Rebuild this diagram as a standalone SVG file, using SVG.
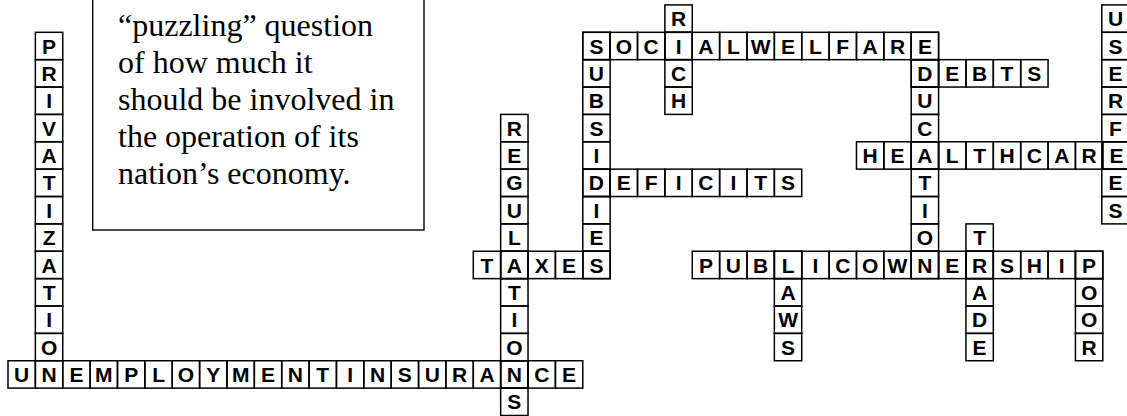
<svg xmlns="http://www.w3.org/2000/svg" width="1127" height="416" viewBox="0 0 1127 416">
<style>
.c{fill:none;stroke:#000;stroke-width:1.5}
.t{font-family:"Liberation Sans",Arial,sans-serif;font-weight:bold;font-size:21px;text-anchor:middle;fill:#000;transform:translateY(0.8px)}
.q{font-family:"Liberation Serif","Times New Roman",serif;font-size:32px;fill:#000}
.box{fill:#fff;stroke:#000;stroke-width:1.4}
</style>
<rect width="1127" height="416" fill="#fff"/>
<g id="note">
<rect class="box" x="92.7" y="-5" width="331.3" height="235"/>
<text class="q" x="118" y="36">“puzzling” question</text>
<text class="q" x="118" y="73">of how much it</text>
<text class="q" x="118" y="110">should be involved in</text>
<text class="q" x="118" y="147">the operation of its</text>
<text class="q" x="118" y="184">nation’s economy.</text>
</g>
<g id="connectors"/>
<g id="privatization" transform="translate(35.37,32.3)">
<rect class="c" x="0" y="0" width="27.37" height="27.37"/><rect class="c" x="0" y="27.37" width="27.37" height="27.37"/><rect class="c" x="0" y="54.74" width="27.37" height="27.37"/><rect class="c" x="0" y="82.11" width="27.37" height="27.37"/><rect class="c" x="0" y="109.48" width="27.37" height="27.37"/><rect class="c" x="0" y="136.85" width="27.37" height="27.37"/><rect class="c" x="0" y="164.22" width="27.37" height="27.37"/><rect class="c" x="0" y="191.59" width="27.37" height="27.37"/><rect class="c" x="0" y="218.96" width="27.37" height="27.37"/><rect class="c" x="0" y="246.33" width="27.37" height="27.37"/><rect class="c" x="0" y="273.7" width="27.37" height="27.37"/><rect class="c" x="0" y="301.07" width="27.37" height="27.37"/>
<text class="t" x="13.69" y="20.5">P</text><text class="t" x="13.69" y="47.87">R</text><text class="t" x="13.69" y="75.24">I</text><text class="t" x="13.69" y="102.61">V</text><text class="t" x="13.69" y="129.98">A</text><text class="t" x="13.69" y="157.35">T</text><text class="t" x="13.69" y="184.72">I</text><text class="t" x="13.69" y="212.09">Z</text><text class="t" x="13.69" y="239.46">A</text><text class="t" x="13.69" y="266.83">T</text><text class="t" x="13.69" y="294.2">I</text><text class="t" x="13.69" y="321.57">O</text>
</g>
<g id="unemploymentinsurance" transform="translate(8,360.74)">
<rect class="c" x="0" y="0" width="27.37" height="27.37"/><rect class="c" x="27.37" y="0" width="27.37" height="27.37"/><rect class="c" x="54.74" y="0" width="27.37" height="27.37"/><rect class="c" x="82.11" y="0" width="27.37" height="27.37"/><rect class="c" x="109.48" y="0" width="27.37" height="27.37"/><rect class="c" x="136.85" y="0" width="27.37" height="27.37"/><rect class="c" x="164.22" y="0" width="27.37" height="27.37"/><rect class="c" x="191.59" y="0" width="27.37" height="27.37"/><rect class="c" x="218.96" y="0" width="27.37" height="27.37"/><rect class="c" x="246.33" y="0" width="27.37" height="27.37"/><rect class="c" x="273.7" y="0" width="27.37" height="27.37"/><rect class="c" x="301.07" y="0" width="27.37" height="27.37"/><rect class="c" x="328.44" y="0" width="27.37" height="27.37"/><rect class="c" x="355.81" y="0" width="27.37" height="27.37"/><rect class="c" x="383.18" y="0" width="27.37" height="27.37"/><rect class="c" x="410.55" y="0" width="27.37" height="27.37"/><rect class="c" x="437.92" y="0" width="27.37" height="27.37"/><rect class="c" x="465.29" y="0" width="27.37" height="27.37"/><rect class="c" x="492.66" y="0" width="27.37" height="27.37"/><rect class="c" x="520.03" y="0" width="27.37" height="27.37"/><rect class="c" x="547.4" y="0" width="27.37" height="27.37"/>
<text class="t" x="13.69" y="20.5">U</text><text class="t" x="41.06" y="20.5">N</text><text class="t" x="68.43" y="20.5">E</text><text class="t" x="95.8" y="20.5">M</text><text class="t" x="123.17" y="20.5">P</text><text class="t" x="150.54" y="20.5">L</text><text class="t" x="177.91" y="20.5">O</text><text class="t" x="205.28" y="20.5">Y</text><text class="t" x="232.65" y="20.5">M</text><text class="t" x="260.02" y="20.5">E</text><text class="t" x="287.39" y="20.5">N</text><text class="t" x="314.76" y="20.5">T</text><text class="t" x="342.13" y="20.5">I</text><text class="t" x="369.5" y="20.5">N</text><text class="t" x="396.87" y="20.5">S</text><text class="t" x="424.24" y="20.5">U</text><text class="t" x="451.61" y="20.5">R</text><text class="t" x="478.98" y="20.5">A</text><text class="t" x="506.35" y="20.5">N</text><text class="t" x="533.72" y="20.5">C</text><text class="t" x="561.09" y="20.5">E</text>
</g>
<g id="regulations" transform="translate(500.66,114.41)">
<rect class="c" x="0" y="0" width="27.37" height="27.37"/><rect class="c" x="0" y="27.37" width="27.37" height="27.37"/><rect class="c" x="0" y="54.74" width="27.37" height="27.37"/><rect class="c" x="0" y="82.11" width="27.37" height="27.37"/><rect class="c" x="0" y="109.48" width="27.37" height="27.37"/><rect class="c" x="0" y="136.85" width="27.37" height="27.37"/><rect class="c" x="0" y="164.22" width="27.37" height="27.37"/><rect class="c" x="0" y="191.59" width="27.37" height="27.37"/><rect class="c" x="0" y="218.96" width="27.37" height="27.37"/><rect class="c" x="0" y="246.33" width="27.37" height="27.37"/><rect class="c" x="0" y="273.7" width="27.37" height="27.37"/>
<text class="t" x="13.69" y="20.5">R</text><text class="t" x="13.69" y="47.87">E</text><text class="t" x="13.69" y="75.24">G</text><text class="t" x="13.69" y="102.61">U</text><text class="t" x="13.69" y="129.98">L</text><text class="t" x="13.69" y="184.72">T</text><text class="t" x="13.69" y="212.09">I</text><text class="t" x="13.69" y="239.46">O</text><text class="t" x="13.69" y="294.2">S</text>
</g>
<g id="taxes" transform="translate(473.29,251.26)">
<rect class="c" x="0" y="0" width="27.37" height="27.37"/><rect class="c" x="27.37" y="0" width="27.37" height="27.37"/><rect class="c" x="54.74" y="0" width="27.37" height="27.37"/><rect class="c" x="82.11" y="0" width="27.37" height="27.37"/><rect class="c" x="109.48" y="0" width="27.37" height="27.37"/>
<text class="t" x="13.69" y="20.5">T</text><text class="t" x="41.06" y="20.5">A</text><text class="t" x="68.43" y="20.5">X</text><text class="t" x="95.8" y="20.5">E</text><text class="t" x="123.17" y="20.5">S</text>
</g>
<g id="subsidies" transform="translate(582.77,32.3)">
<rect class="c" x="0" y="0" width="27.37" height="27.37"/><rect class="c" x="0" y="27.37" width="27.37" height="27.37"/><rect class="c" x="0" y="54.74" width="27.37" height="27.37"/><rect class="c" x="0" y="82.11" width="27.37" height="27.37"/><rect class="c" x="0" y="109.48" width="27.37" height="27.37"/><rect class="c" x="0" y="136.85" width="27.37" height="27.37"/><rect class="c" x="0" y="164.22" width="27.37" height="27.37"/><rect class="c" x="0" y="191.59" width="27.37" height="27.37"/><rect class="c" x="0" y="218.96" width="27.37" height="27.37"/>
<text class="t" x="13.69" y="47.87">U</text><text class="t" x="13.69" y="75.24">B</text><text class="t" x="13.69" y="102.61">S</text><text class="t" x="13.69" y="129.98">I</text><text class="t" x="13.69" y="184.72">I</text><text class="t" x="13.69" y="212.09">E</text>
</g>
<g id="socialwelfare" transform="translate(582.77,32.3)">
<rect class="c" x="0" y="0" width="27.37" height="27.37"/><rect class="c" x="27.37" y="0" width="27.37" height="27.37"/><rect class="c" x="54.74" y="0" width="27.37" height="27.37"/><rect class="c" x="82.11" y="0" width="27.37" height="27.37"/><rect class="c" x="109.48" y="0" width="27.37" height="27.37"/><rect class="c" x="136.85" y="0" width="27.37" height="27.37"/><rect class="c" x="164.22" y="0" width="27.37" height="27.37"/><rect class="c" x="191.59" y="0" width="27.37" height="27.37"/><rect class="c" x="218.96" y="0" width="27.37" height="27.37"/><rect class="c" x="246.33" y="0" width="27.37" height="27.37"/><rect class="c" x="273.7" y="0" width="27.37" height="27.37"/><rect class="c" x="301.07" y="0" width="27.37" height="27.37"/><rect class="c" x="328.44" y="0" width="27.37" height="27.37"/>
<text class="t" x="13.69" y="20.5">S</text><text class="t" x="41.06" y="20.5">O</text><text class="t" x="68.43" y="20.5">C</text><text class="t" x="95.8" y="20.5">I</text><text class="t" x="123.17" y="20.5">A</text><text class="t" x="150.54" y="20.5">L</text><text class="t" x="177.91" y="20.5">W</text><text class="t" x="205.28" y="20.5">E</text><text class="t" x="232.65" y="20.5">L</text><text class="t" x="260.02" y="20.5">F</text><text class="t" x="287.39" y="20.5">A</text><text class="t" x="314.76" y="20.5">R</text><text class="t" x="342.13" y="20.5">E</text>
</g>
<g id="rich" transform="translate(664.88,4.93)">
<rect class="c" x="0" y="0" width="27.37" height="27.37"/><rect class="c" x="0" y="27.37" width="27.37" height="27.37"/><rect class="c" x="0" y="54.74" width="27.37" height="27.37"/><rect class="c" x="0" y="82.11" width="27.37" height="27.37"/>
<text class="t" x="13.69" y="20.5">R</text><text class="t" x="13.69" y="75.24">C</text><text class="t" x="13.69" y="102.61">H</text>
</g>
<g id="deficits" transform="translate(582.77,169.15)">
<rect class="c" x="0" y="0" width="27.37" height="27.37"/><rect class="c" x="27.37" y="0" width="27.37" height="27.37"/><rect class="c" x="54.74" y="0" width="27.37" height="27.37"/><rect class="c" x="82.11" y="0" width="27.37" height="27.37"/><rect class="c" x="109.48" y="0" width="27.37" height="27.37"/><rect class="c" x="136.85" y="0" width="27.37" height="27.37"/><rect class="c" x="164.22" y="0" width="27.37" height="27.37"/><rect class="c" x="191.59" y="0" width="27.37" height="27.37"/>
<text class="t" x="13.69" y="20.5">D</text><text class="t" x="41.06" y="20.5">E</text><text class="t" x="68.43" y="20.5">F</text><text class="t" x="95.8" y="20.5">I</text><text class="t" x="123.17" y="20.5">C</text><text class="t" x="150.54" y="20.5">I</text><text class="t" x="177.91" y="20.5">T</text><text class="t" x="205.28" y="20.5">S</text>
</g>
<g id="education" transform="translate(911.21,32.3)">
<rect class="c" x="0" y="0" width="27.37" height="27.37"/><rect class="c" x="0" y="27.37" width="27.37" height="27.37"/><rect class="c" x="0" y="54.74" width="27.37" height="27.37"/><rect class="c" x="0" y="82.11" width="27.37" height="27.37"/><rect class="c" x="0" y="109.48" width="27.37" height="27.37"/><rect class="c" x="0" y="136.85" width="27.37" height="27.37"/><rect class="c" x="0" y="164.22" width="27.37" height="27.37"/><rect class="c" x="0" y="191.59" width="27.37" height="27.37"/><rect class="c" x="0" y="218.96" width="27.37" height="27.37"/>
<text class="t" x="13.69" y="75.24">U</text><text class="t" x="13.69" y="102.61">C</text><text class="t" x="13.69" y="157.35">T</text><text class="t" x="13.69" y="184.72">I</text><text class="t" x="13.69" y="212.09">O</text>
</g>
<g id="debts" transform="translate(911.21,59.67)">
<rect class="c" x="0" y="0" width="27.37" height="27.37"/><rect class="c" x="27.37" y="0" width="27.37" height="27.37"/><rect class="c" x="54.74" y="0" width="27.37" height="27.37"/><rect class="c" x="82.11" y="0" width="27.37" height="27.37"/><rect class="c" x="109.48" y="0" width="27.37" height="27.37"/>
<text class="t" x="13.69" y="20.5">D</text><text class="t" x="41.06" y="20.5">E</text><text class="t" x="68.43" y="20.5">B</text><text class="t" x="95.8" y="20.5">T</text><text class="t" x="123.17" y="20.5">S</text>
</g>
<g id="healthcare" transform="translate(856.47,141.78)">
<rect class="c" x="0" y="0" width="27.37" height="27.37"/><rect class="c" x="27.37" y="0" width="27.37" height="27.37"/><rect class="c" x="54.74" y="0" width="27.37" height="27.37"/><rect class="c" x="82.11" y="0" width="27.37" height="27.37"/><rect class="c" x="109.48" y="0" width="27.37" height="27.37"/><rect class="c" x="136.85" y="0" width="27.37" height="27.37"/><rect class="c" x="164.22" y="0" width="27.37" height="27.37"/><rect class="c" x="191.59" y="0" width="27.37" height="27.37"/><rect class="c" x="218.96" y="0" width="27.37" height="27.37"/><rect class="c" x="246.33" y="0" width="27.37" height="27.37"/>
<text class="t" x="13.69" y="20.5">H</text><text class="t" x="41.06" y="20.5">E</text><text class="t" x="68.43" y="20.5">A</text><text class="t" x="95.8" y="20.5">L</text><text class="t" x="123.17" y="20.5">T</text><text class="t" x="150.54" y="20.5">H</text><text class="t" x="177.91" y="20.5">C</text><text class="t" x="205.28" y="20.5">A</text><text class="t" x="232.65" y="20.5">R</text><text class="t" x="260.02" y="20.5">E</text>
</g>
<g id="userfees" transform="translate(1101.8,4.93)">
<rect class="c" x="0" y="0" width="27.37" height="27.37"/><rect class="c" x="0" y="27.37" width="27.37" height="27.37"/><rect class="c" x="0" y="54.74" width="27.37" height="27.37"/><rect class="c" x="0" y="82.11" width="27.37" height="27.37"/><rect class="c" x="0" y="109.48" width="27.37" height="27.37"/><rect class="c" x="0" y="136.85" width="27.37" height="27.37"/><rect class="c" x="0" y="164.22" width="27.37" height="27.37"/><rect class="c" x="0" y="191.59" width="27.37" height="27.37"/>
<text class="t" x="13.69" y="20.5">U</text><text class="t" x="13.69" y="47.87">S</text><text class="t" x="13.69" y="75.24">E</text><text class="t" x="13.69" y="102.61">R</text><text class="t" x="13.69" y="129.98">F</text><text class="t" x="13.69" y="184.72">E</text><text class="t" x="13.69" y="212.09">S</text>
</g>
<g id="publicownership" transform="translate(692.25,251.26)">
<rect class="c" x="0" y="0" width="27.37" height="27.37"/><rect class="c" x="27.37" y="0" width="27.37" height="27.37"/><rect class="c" x="54.74" y="0" width="27.37" height="27.37"/><rect class="c" x="82.11" y="0" width="27.37" height="27.37"/><rect class="c" x="109.48" y="0" width="27.37" height="27.37"/><rect class="c" x="136.85" y="0" width="27.37" height="27.37"/><rect class="c" x="164.22" y="0" width="27.37" height="27.37"/><rect class="c" x="191.59" y="0" width="27.37" height="27.37"/><rect class="c" x="218.96" y="0" width="27.37" height="27.37"/><rect class="c" x="246.33" y="0" width="27.37" height="27.37"/><rect class="c" x="273.7" y="0" width="27.37" height="27.37"/><rect class="c" x="301.07" y="0" width="27.37" height="27.37"/><rect class="c" x="328.44" y="0" width="27.37" height="27.37"/><rect class="c" x="355.81" y="0" width="27.37" height="27.37"/><rect class="c" x="383.18" y="0" width="27.37" height="27.37"/>
<text class="t" x="13.69" y="20.5">P</text><text class="t" x="41.06" y="20.5">U</text><text class="t" x="68.43" y="20.5">B</text><text class="t" x="95.8" y="20.5">L</text><text class="t" x="123.17" y="20.5">I</text><text class="t" x="150.54" y="20.5">C</text><text class="t" x="177.91" y="20.5">O</text><text class="t" x="205.28" y="20.5">W</text><text class="t" x="232.65" y="20.5">N</text><text class="t" x="260.02" y="20.5">E</text><text class="t" x="287.39" y="20.5">R</text><text class="t" x="314.76" y="20.5">S</text><text class="t" x="342.13" y="20.5">H</text><text class="t" x="369.5" y="20.5">I</text><text class="t" x="396.87" y="20.5">P</text>
</g>
<g id="laws" transform="translate(774.36,251.26)">
<rect class="c" x="0" y="0" width="27.37" height="27.37"/><rect class="c" x="0" y="27.37" width="27.37" height="27.37"/><rect class="c" x="0" y="54.74" width="27.37" height="27.37"/><rect class="c" x="0" y="82.11" width="27.37" height="27.37"/>
<text class="t" x="13.69" y="47.87">A</text><text class="t" x="13.69" y="75.24">W</text><text class="t" x="13.69" y="102.61">S</text>
</g>
<g id="trade" transform="translate(965.95,223.89)">
<rect class="c" x="0" y="0" width="27.37" height="27.37"/><rect class="c" x="0" y="27.37" width="27.37" height="27.37"/><rect class="c" x="0" y="54.74" width="27.37" height="27.37"/><rect class="c" x="0" y="82.11" width="27.37" height="27.37"/><rect class="c" x="0" y="109.48" width="27.37" height="27.37"/>
<text class="t" x="13.69" y="20.5">T</text><text class="t" x="13.69" y="75.24">A</text><text class="t" x="13.69" y="102.61">D</text><text class="t" x="13.69" y="129.98">E</text>
</g>
<g id="poor" transform="translate(1075.43,251.26)">
<rect class="c" x="0" y="0" width="27.37" height="27.37"/><rect class="c" x="0" y="27.37" width="27.37" height="27.37"/><rect class="c" x="0" y="54.74" width="27.37" height="27.37"/><rect class="c" x="0" y="82.11" width="27.37" height="27.37"/>
<text class="t" x="13.69" y="47.87">O</text><text class="t" x="13.69" y="75.24">O</text><text class="t" x="13.69" y="102.61">R</text>
</g>
</svg>
